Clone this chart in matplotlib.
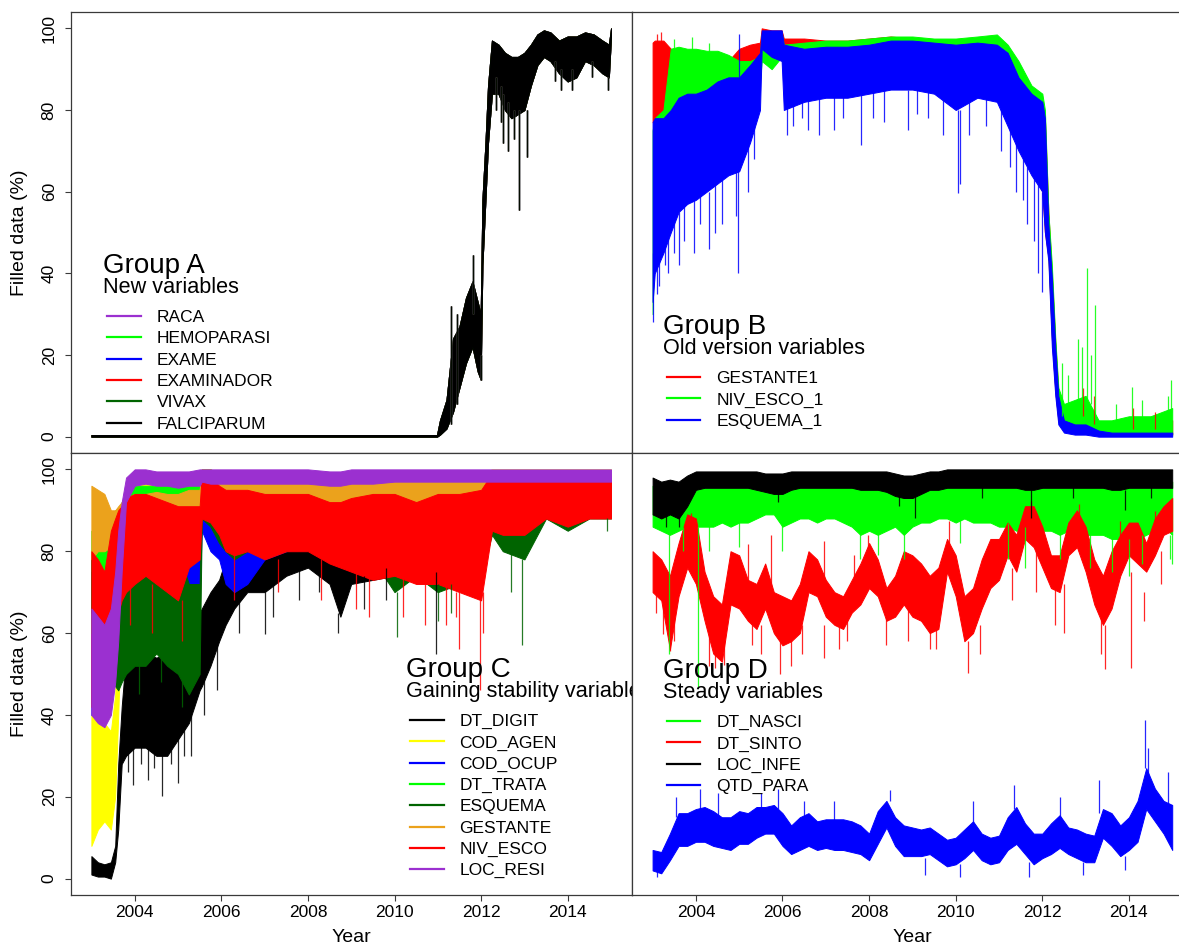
import numpy as np
import matplotlib
matplotlib.use("Agg")
import matplotlib.pyplot as plt
from matplotlib.lines import Line2D

plt.rcParams['font.family'] = ['Liberation Sans', 'DejaVu Sans']

# ---------------- DATA (band = daily low / high envelope) ----------------
# Group A: all six "new variables" overlap almost perfectly
A_NAMES = ['RACA', 'HEMOPARASI', 'EXAME', 'EXAMINADOR', 'VIVAX', 'FALCIPARUM']
A_T = [2003.0, 2010.98, 2011.05, 2011.2, 2011.35, 2011.5, 2011.65, 2011.8, 2011.92, 2011.99,
       2012.03, 2012.1, 2012.16, 2012.25, 2012.4, 2012.55, 2012.7, 2012.85, 2013.0, 2013.15,
       2013.3, 2013.45, 2013.6, 2013.8, 2014.0, 2014.2, 2014.4, 2014.6, 2014.8, 2014.95, 2015.0]
A_LO = [0, 0, 0.5, 2, 6, 12, 18, 22, 16, 14, 42, 58, 72, 84, 84, 80, 78, 79, 80, 86,
        91, 93, 92, 89, 87, 88, 92, 91, 89, 88, 98]
A_HI = [0.4, 0.4, 4, 9, 24, 27, 34, 38, 33, 30, 58, 72, 86, 97, 96, 94, 93, 93, 94, 96,
        98.5, 99.5, 99, 97, 98, 98, 99, 98.5, 97, 96, 100]
A_SPK_T = [2011.3, 2011.45, 2011.82, 2011.99, 2012.35, 2012.45, 2012.5, 2012.62, 2012.75, 2012.87,
           2013.05, 2013.7, 2013.85, 2014.1, 2014.55, 2014.93]
A_SPK_LO = [3, 8, 30, 13.9, 80, 77, 72, 70, 73, 55.5, 68.6, 87, 85, 85, 88, 85]
A_SPK_HI = [32, 30, 44.5, 20, 88, 86, 84, 82, 80, 80, 80, 92, 90, 90, 92, 88]

# Group B: old version variables
B_NAMES = ['GESTANTE1', 'NIV_ESCO_1', 'ESQUEMA_1']
B_T = [2003.0, 2003.05, 2003.25, 2003.42, 2003.6, 2003.8, 2004.0, 2004.25, 2004.5, 2004.75,
       2005.0, 2005.25, 2005.48, 2005.52, 2005.75, 2005.98, 2006.03, 2006.5, 2007.0, 2007.5,
       2008.0, 2008.5, 2009.0, 2009.5, 2010.0, 2010.5, 2010.95, 2011.2, 2011.45, 2011.75,
       2012.0, 2012.06, 2012.14, 2012.22, 2012.3, 2012.37, 2012.5, 2012.75, 2013.0, 2013.3,
       2013.6, 2014.0, 2014.5, 2015.0]
B_GESTANTE1_LO = [77, 78, 79, 80, 82, 82, 82, 84, 86, 86, 88, 90, 91, 96, 96, 96, 90, 91, 92, 91,
                  91, 92, 90, 89, 88, 88, 88, 80, 72, 66, 60, 50, 44, 24, 11, 4, 1.5, 1.5, 1.5, 0.5,
                  0.5, 0.5, 0.5, 0.5]
B_GESTANTE1_HI = [96.5, 97, 97, 95, 93, 93, 93, 93, 92, 92, 95, 96, 96.5, 100, 99.5, 99.5, 97.5, 97.5, 97, 97,
                  97.5, 98, 97.5, 97, 97, 97.5, 97.5, 95, 90, 85, 82, 78, 55, 40, 23, 11, 6, 7, 7, 3,
                  3, 4, 4, 4]
B_NIV_ESCO_1_LO = [30, 50, 60, 79, 80, 80, 79, 80, 84, 85, 86, 86, 87, 92, 90, 93, 88, 88, 88, 88,
                   89, 89, 88, 87, 86, 88, 88, 80, 74, 68, 62, 52, 45, 25, 12, 5, 2, 2, 2, 0.5,
                   0.5, 0.5, 0.5, 0.5]
B_NIV_ESCO_1_HI = [75, 78, 80, 95, 95.5, 95, 95, 94.5, 94.5, 93.5, 92, 92, 93, 98.5, 98, 99, 96, 96.5, 97, 97,
                   97.5, 98, 98, 97.5, 97.5, 98, 98.5, 96, 92, 86, 84, 80, 55, 42, 24, 12, 8, 9, 10, 4,
                   4, 5, 5, 7]
B_ESQUEMA_1_LO = [33, 40, 45, 50, 55, 57, 58, 60, 62, 64, 65, 72, 80, 95, 93, 92, 80, 82, 83, 83,
                  84, 85, 85, 84, 80, 83, 82, 76, 70, 64, 60, 50, 43, 22, 10, 3, 1, 0.5, 0.5, 0,
                  0, 0, 0, 0]
B_ESQUEMA_1_HI = [77, 78, 78, 80, 83, 84, 84, 85, 87, 88, 88, 91, 94, 99.5, 99.5, 99.5, 96, 95, 95.5, 95.5,
                  96, 97, 97, 96.5, 96, 96.5, 96, 94, 88, 84, 82, 78, 52, 39, 22, 10, 4, 3, 3, 1.5,
                  1, 1, 1, 1]
B_GESTANTE1_SPK_T = [2003.1, 2003.2, 2012.95, 2013.2, 2014.1, 2014.6]
B_GESTANTE1_SPK_LO = [90, 88, 5, 3, 2, 2]
B_GESTANTE1_SPK_HI = [98.5, 99, 12, 10, 7, 6]
B_NIV_ESCO_1_SPK_T = [2003.5, 2003.9, 2004.3, 2012.45, 2012.6, 2012.83, 2012.91, 2013.04, 2013.12,
                      2013.21, 2013.7, 2014.07, 2014.3, 2014.9, 2014.98]
B_NIV_ESCO_1_SPK_LO = [88, 90, 88, 5, 7, 8, 8, 9, 8, 4, 3, 4, 3, 5, 6]
B_NIV_ESCO_1_SPK_HI = [97.5, 98, 96.5, 18, 15, 24, 22, 41.3, 20, 32.2, 8, 12.2, 9, 10, 13.9]
B_ESQUEMA_1_SPK_T = [2003.02, 2003.1, 2003.15, 2003.28, 2003.35, 2003.5, 2003.6, 2003.72, 2003.95,
                     2004.1, 2004.3, 2004.45, 2004.6, 2004.92, 2004.98, 2004.99, 2005.2, 2005.35,
                     2006.1, 2006.25, 2006.45, 2006.6, 2006.85, 2007.2, 2007.4, 2007.82, 2008.1,
                     2008.35, 2008.9, 2009.1, 2009.35, 2009.7, 2010.05, 2010.1, 2010.3, 2010.7,
                     2011.05, 2011.25, 2011.4, 2011.55, 2011.65, 2011.8, 2011.9, 2012.0]
B_ESQUEMA_1_SPK_LO = [28, 35, 37, 42, 40, 45, 42, 48, 45, 52, 46, 50, 52, 54, 40, 88, 60, 68,
                      74, 76, 78, 75, 74, 75, 78, 71.5, 78, 77, 75, 79, 78, 74, 59.6, 62, 74, 76,
                      70, 66, 60, 58, 52, 48, 40, 35.5]
B_ESQUEMA_1_SPK_HI = [45, 50, 50, 55, 50, 55, 55, 60, 58, 62, 60, 65, 65, 65, 65, 98.5, 75, 80,
                      82, 82, 84, 84, 83, 84, 84, 84, 85, 86, 85, 86, 86, 84, 80, 80, 82, 84,
                      82, 78, 72, 68, 66, 66, 62, 60]

# Group C: gaining stability variables
C_NAMES = ['DT_DIGIT', 'COD_AGEN', 'COD_OCUP', 'DT_TRATA', 'ESQUEMA', 'GESTANTE', 'NIV_ESCO', 'LOC_RESI']
C_T = [2003.0, 2003.15, 2003.3, 2003.45, 2003.55, 2003.62, 2003.7, 2003.8, 2004.0, 2004.25,
       2004.5, 2004.75, 2005.0, 2005.25, 2005.5, 2005.55, 2005.75, 2005.95, 2006.1, 2006.3,
       2006.6, 2007.0, 2007.5, 2008.0, 2008.5, 2008.75, 2009.0, 2009.5, 2010.0, 2010.5,
       2011.0, 2011.5, 2012.0, 2012.25, 2012.5, 2013.0, 2013.5, 2014.0, 2014.5, 2015.0]
C_DT_DIGIT_LO = [1, 0.5, 0.5, 0, 4, 12, 28, 30, 32, 32, 30, 30, 34, 38, 46, 47, 52, 58, 62, 66,
                 70, 70, 74, 76, 72, 64, 72, 73, 74, 75, 74, 78, 80, 86, 88, 88, 90, 88, 90, 90]
C_DT_DIGIT_HI = [5.5, 4, 3.5, 4, 8, 28, 42, 55, 56, 55, 54, 55, 58, 62, 65, 66, 70, 73, 78, 81,
                 84, 85, 88, 87, 85, 78, 86, 88, 90, 91, 93, 95, 95, 97, 98, 98, 99, 98, 99, 99]
C_COD_AGEN_LO = [8, 12, 14, 12, 20, 40, 65, 80, 88, 90, 90, 90, 90, 90, 90, 92, 92, 90, 90, 90,
                 90, 90, 90, 90, 90, 90, 90, 90, 90, 90, 90, 90, 90, 92, 92, 92, 93, 92, 93, 93]
C_COD_AGEN_HI = [40, 40, 38, 36, 45, 70, 88, 95, 98, 99, 99, 99, 99, 99, 99, 100, 100, 99, 99, 99,
                 99, 99, 99, 99, 99, 99, 99, 99, 99, 99, 99, 99, 99, 100, 100, 100, 100, 100, 100, 100]
C_COD_OCUP_LO = [40, 42, 45, 55, 60, 62, 65, 68, 68, 68, 66, 64, 63, 68, 70, 85, 80, 78, 72, 70,
                 72, 78, 80, 81, 79, 78, 79, 78, 77, 77, 76, 76, 76, 86, 85, 85, 90, 86, 89, 89]
C_COD_OCUP_HI = [75, 72, 75, 85, 88, 88, 90, 90, 90, 90, 88, 88, 86, 82, 82, 97, 96, 92, 88, 88,
                 90, 93, 94, 95, 94, 93, 94, 95, 95, 94, 95, 95, 95, 98, 97, 97, 98, 97, 98, 98]
C_DT_TRATA_LO = [60, 62, 65, 70, 75, 78, 80, 82, 85, 85, 86, 86, 86, 87, 88, 96, 96, 94, 88, 88,
                 88, 88, 88, 88, 88, 88, 88, 88, 88, 88, 88, 88, 88, 90, 90, 90, 91, 90, 91, 91]
C_DT_TRATA_HI = [85, 84, 85, 88, 90, 90, 92, 94, 96, 96, 96, 96, 96, 96, 96, 100, 100, 99, 97, 97,
                 97, 97, 97, 97, 97, 97, 97, 97, 97, 97, 97, 97, 97, 99, 99, 99, 99, 99, 99, 99]
C_ESQUEMA_LO = [65, 66, 60, 50, 47, 46, 48, 50, 52, 52, 55, 52, 50, 45, 50, 88, 86, 82, 80, 78,
                80, 80, 80, 82, 80, 78, 80, 78, 70, 74, 70, 72, 74, 84, 80, 78, 88, 85, 88, 88]
C_ESQUEMA_HI = [78, 76, 74, 72, 70, 72, 78, 80, 80, 82, 84, 82, 80, 72, 72, 98, 97, 95, 95, 94,
                95, 95, 95, 95, 94, 93, 94, 95, 93, 93, 93, 94, 95, 97, 96, 95, 98, 97, 98, 98]
C_GESTANTE_LO = [78, 80, 80, 81, 82, 83, 84, 86, 86, 87, 87, 87, 87, 88, 89, 97, 96, 93, 91, 91,
                 91, 91, 91, 91, 91, 91, 91, 91, 91, 91, 91, 91, 91, 93, 93, 93, 93, 93, 93, 93]
C_GESTANTE_HI = [96, 95, 94, 90, 90, 91, 92, 93, 94, 94, 94.5, 94, 94, 95, 95, 100, 100, 99, 97.5, 97.5,
                 97.5, 97.5, 97.5, 97.5, 97.5, 97.5, 97.5, 97.5, 97.5, 97.5, 97.5, 97.5, 97.5, 99, 99, 99, 99, 99, 99, 99]
C_NIV_ESCO_LO = [42, 40, 40, 55, 62, 65, 68, 70, 72, 74, 72, 70, 68, 76, 78, 88, 87, 84, 80, 79,
                 80, 78, 80, 80, 77, 76, 75, 73, 74, 72, 72, 70, 68, 85, 84, 84, 88, 86, 88, 88]
C_NIV_ESCO_HI = [80, 78, 75, 85, 88, 90, 91, 93, 94, 94, 93, 92, 91, 91, 91, 99, 98, 96, 95, 95,
                 95, 94, 94, 94, 92, 92, 93, 94, 94, 92, 94, 94, 95, 99, 98, 98, 98, 98, 98, 98]
C_LOC_RESI_LO = [40, 38, 37, 40, 48, 58, 75, 92, 96, 96.5, 96, 96, 95.5, 96, 96, 97, 96.5, 96.5, 96.5, 96.5,
                 96.5, 96.5, 96.5, 96.5, 96, 96, 96.5, 96.5, 97, 97, 97, 97, 97, 97, 97, 97, 97, 97, 97, 97]
C_LOC_RESI_HI = [66, 64, 62, 66, 75, 85, 92, 98, 100, 100, 99.5, 99.5, 99.5, 99.5, 100, 100, 100, 100, 100, 100,
                 100, 100, 100, 100, 99.5, 99.5, 100, 100, 100, 100, 100, 100, 100, 100, 100, 100, 100, 100, 100, 100]
C_DT_DIGIT_SPK_T = [2003.85, 2003.95, 2004.15, 2004.3, 2004.45, 2004.64, 2004.85, 2005.0, 2005.15,
                    2005.3, 2005.6, 2005.9, 2006.4, 2007.0, 2007.2, 2007.8, 2008.25, 2008.7,
                    2009.3, 2009.8, 2010.95]
C_DT_DIGIT_SPK_LO = [26, 23, 28, 24, 27, 20.1, 28, 23.4, 30, 30, 40, 46, 60, 59.7, 64, 68, 70, 60,
                     66, 68, 55]
C_DT_DIGIT_SPK_HI = [35, 33, 36, 33, 35, 31, 35, 35, 40, 40, 50, 58, 68, 70, 74, 76, 78, 65,
                     74, 76, 75]
C_ESQUEMA_SPK_T = [2004.1, 2004.6, 2005.1, 2010.05, 2011.0, 2011.3, 2012.7, 2012.95, 2014.9]
C_ESQUEMA_SPK_LO = [45, 48, 42, 59, 63, 65, 70, 57, 85]
C_ESQUEMA_SPK_HI = [55, 58, 52, 70, 72, 72, 80, 78, 88]
C_NIV_ESCO_SPK_T = [2003.9, 2004.4, 2005.1, 2006.3, 2007.3, 2008.3, 2009.1, 2009.4, 2010.2,
                    2010.7, 2011.2, 2011.42, 2011.5, 2011.98, 2012.05]
C_NIV_ESCO_SPK_LO = [62, 60, 58, 68, 70, 68, 66, 64, 64, 62, 62, 64, 56, 46, 60]
C_NIV_ESCO_SPK_HI = [72, 72, 68, 80, 78, 78, 75, 74, 74, 72, 72, 70, 70, 68, 70]

# Group D: steady variables (sampled every 0.2 year)
D_NAMES = ['DT_NASCI', 'DT_SINTO', 'LOC_INFE', 'QTD_PARA']
D_T = [2003.0, 2003.2, 2003.4, 2003.6, 2003.8, 2004.0, 2004.2, 2004.4, 2004.6, 2004.8,
       2005.0, 2005.2, 2005.4, 2005.6, 2005.8, 2006.0, 2006.2, 2006.4, 2006.6, 2006.8,
       2007.0, 2007.2, 2007.4, 2007.6, 2007.8, 2008.0, 2008.2, 2008.4, 2008.6, 2008.8,
       2009.0, 2009.2, 2009.4, 2009.6, 2009.8, 2010.0, 2010.2, 2010.4, 2010.6, 2010.8,
       2011.0, 2011.2, 2011.4, 2011.6, 2011.8, 2012.0, 2012.2, 2012.4, 2012.6, 2012.8,
       2013.0, 2013.2, 2013.4, 2013.6, 2013.8, 2014.0, 2014.2, 2014.4, 2014.6, 2014.8, 2015.0]
D_DT_NASCI_LO = [86, 85, 84, 85, 86, 86, 86, 86, 87, 86, 87, 87, 88, 89, 89, 86, 87, 88, 88, 87,
                 88, 88, 87, 86, 84, 85, 84, 85, 86, 84, 86, 87, 87, 88, 88, 87, 88, 87, 87, 87,
                 86, 86, 85, 85, 85, 85, 85, 84, 85, 84, 84, 84, 84, 83, 83, 82, 83, 84, 85, 86, 84]
D_DT_NASCI_HI = [96, 95, 94, 95, 96, 97, 96, 96, 96, 96, 96, 96, 97, 96.5, 96, 96, 96, 96.5, 96.5, 96,
                 96.5, 96.5, 96, 96, 95, 95.5, 95.5, 96, 96, 95, 96, 96.5, 96.5, 97, 97.5, 97.5, 97.5, 97.5, 97, 97,
                 97, 97, 97, 97, 96.5, 96.5, 96.5, 96.5, 96.5, 96, 96, 96, 96, 95.5, 96, 95.5, 96, 96.5, 96.5, 97, 97]
D_DT_SINTO_LO = [70, 68, 56, 69, 76, 72, 63, 55, 53, 67, 66, 63, 61, 66, 60, 57, 58, 60, 70, 69,
                 64, 62, 61, 65, 67, 71, 69, 63, 64, 67, 64, 63, 60, 61, 75, 69, 58, 60, 66, 71,
                 73, 79, 75, 83, 81, 76, 71, 70, 79, 81, 75, 67, 62, 66, 74, 79, 77, 75, 79, 84, 85]
D_DT_SINTO_HI = [80, 78, 74, 82, 89, 88, 75, 69, 67, 80, 79, 73, 72, 77, 70, 69, 68, 72, 80, 78,
                 73, 70, 69, 73, 77, 82, 78, 71, 74, 80, 79, 77, 74, 76, 83, 79, 69, 71, 78, 83,
                 83, 87, 84, 91, 91, 86, 79, 79, 87, 90, 86, 78, 74, 80, 84, 87, 87, 82, 88, 91, 93]
D_LOC_INFE_LO = [89, 88, 89, 88, 91, 95, 95.5, 95.5, 95.5, 95.5, 95.5, 95.5, 95, 94.5, 94, 94, 95, 95.5, 95.5, 95.5,
                 95.5, 95.5, 95.5, 95.5, 95, 95, 95, 94.5, 93.5, 93, 93, 94, 95, 95, 95.5, 95.5, 95.5, 95.5, 95.5, 95.5,
                 95.5, 95.5, 95.5, 95, 95, 95.5, 95.5, 95.5, 95.5, 95.5, 95.5, 95.5, 95.5, 95, 95, 95.5, 95.5, 95.5, 95.5, 95.5, 95.5]
D_LOC_INFE_HI = [98, 97, 97.5, 97, 98.5, 99.5, 99.5, 99.5, 99.5, 99.5, 99.5, 99.5, 99.5, 99, 99, 99, 99.5, 99.5, 99.5, 99.5,
                 99.5, 99.5, 99.5, 99.5, 99.5, 99.5, 99.5, 99.5, 99, 98.5, 98.5, 99, 99.5, 99.5, 100, 100, 100, 100, 100, 100,
                 100, 100, 100, 100, 100, 100, 100, 100, 100, 100, 100, 100, 100, 100, 100, 100, 100, 100, 100, 100, 100]
D_QTD_PARA_LO = [2, 1.3, 4.5, 8, 8, 9, 9, 8, 7.5, 7, 8.5, 8.5, 10, 11, 11, 8, 6, 7, 8, 7,
                 7.5, 7, 7, 6.5, 6, 4.5, 8.5, 12.5, 8, 5.5, 5.5, 5.5, 6, 4.5, 3, 3.5, 5, 7, 4.5, 3.5,
                 4, 7, 8.5, 6, 3.5, 5, 6, 7.5, 6, 5, 4, 4, 10, 8, 5.5, 7, 9, 17, 14, 11, 7]
D_QTD_PARA_HI = [7, 6.5, 11, 16, 16, 17, 17.5, 16.5, 15, 15, 16.5, 16, 17.5, 17.5, 18, 16, 13, 15, 16, 14,
                 14.5, 14.5, 14.5, 14, 13, 11, 16.5, 19, 15, 13, 12.5, 12, 12.5, 11, 9.5, 10, 12, 14, 11, 10,
                 10.5, 15, 17.5, 13.5, 11, 11, 13.5, 15.5, 12.5, 12, 11, 10.5, 17, 16, 13, 15, 19, 27, 22, 19, 18]
D_DT_NASCI_SPK_T = [2003.38, 2003.7, 2004.04, 2004.3, 2005.0, 2006.0, 2007.8, 2008.2, 2008.8, 2010.1,
                    2011.2, 2011.6, 2012.4, 2013.1, 2013.6, 2014.0, 2014.3, 2014.95, 2015.0]
D_DT_NASCI_SPK_LO = [55, 80, 46.6, 80, 81, 80, 78, 79, 78, 82, 78, 76, 78, 76, 75, 74, 77, 78, 76.8]
D_DT_NASCI_SPK_HI = [85, 86, 86, 87, 88, 87, 85, 85, 85, 88, 87, 86, 85, 85, 84, 83, 84, 84, 84]
D_DT_SINTO_SPK_T = [2003.08, 2003.25, 2003.4, 2003.5, 2003.88, 2004.3, 2004.45, 2004.65, 2005.2, 2005.3,
                    2005.5, 2005.74, 2005.95, 2006.2, 2006.45, 2006.96, 2006.97, 2007.3, 2007.5, 2007.66,
                    2007.97, 2008.4, 2008.9, 2009.4, 2009.55, 2009.85, 2010.28, 2010.55, 2011.3, 2011.74,
                    2011.85, 2012.3, 2012.5, 2012.85, 2013.35, 2013.45, 2013.8, 2014.04, 2014.35, 2014.6,
                    2014.75]
D_DT_SINTO_SPK_LO = [65, 59.7, 55.6, 58, 80, 52, 51.5, 52.3, 70, 57, 55, 70, 49.9, 52, 55, 54, 72, 56, 58, 70,
                     78, 57, 58, 56, 56, 80, 50.3, 55, 68, 88, 70, 62, 60, 85, 55, 51.1, 80, 51.5, 63, 84,
                     72]
D_DT_SINTO_SPK_HI = [72, 68, 62, 66, 89.4, 62, 58, 60, 81.7, 63, 62, 84, 58, 60, 62, 62, 82.5, 63, 64, 79,
                     84, 64, 66, 62, 62, 87.4, 58, 62, 76, 92.3, 80, 72, 72, 91.5, 64, 62, 87.4, 75, 70, 89.8,
                     80]
D_LOC_INFE_SPK_T = [2003.3, 2003.6, 2005.9, 2008.7, 2009.05, 2010.6, 2011.75, 2012.7, 2013.9, 2014.5]
D_LOC_INFE_SPK_LO = [86, 86, 92, 91, 88, 93, 88, 93, 90, 93]
D_LOC_INFE_SPK_HI = [92, 92, 96, 95, 95, 96, 95, 96, 95, 96]
D_QTD_PARA_SPK_T = [2003.1, 2003.55, 2004.1, 2004.5, 2005.5, 2005.9, 2006.5, 2007.2, 2008.48, 2009.3,
                    2010.1, 2010.4, 2011.35, 2011.7, 2012.4, 2012.95, 2013.3, 2013.9, 2014.37, 2014.45,
                    2014.9]
D_QTD_PARA_SPK_LO = [0.5, 15, 16, 15, 16, 17, 14, 13, 19, 0.8, 0.3, 13, 17, 0.5, 14, 0.8, 16, 2, 27, 25, 18]
D_QTD_PARA_SPK_HI = [2, 20, 22, 21, 21, 22, 19, 19, 21.7, 5, 3.5, 19, 23, 4, 20, 4, 24, 5.5, 38.8, 32, 26]

X_TICKS = [2004, 2006, 2008, 2010, 2012, 2014]
Y_TICKS = [0, 20, 40, 60, 80, 100]

# ---------------- STYLE ----------------
PURPLE = '#9B30D0'
ORANGE = '#EBA21C'
A_COLORS = [PURPLE, '#00FF00', '#0000FF', '#FF0000', '#006400', '#000000']
B_COLORS = ['#FF0000', '#00FF00', '#0000FF']
C_COLORS = ['#000000', '#FFFF00', '#0000FF', '#00FF00', '#006400', ORANGE, '#FF0000', PURPLE]
D_COLORS = ['#00FF00', '#FF0000', '#000000', '#0000FF']

W, H = 1179, 948
fig = plt.figure(figsize=(W / 100, H / 100), dpi=100)


def fx(px):
    return px / W


def fy(py):
    return 1 - py / H


X0, XM, X1 = 70.6, 631.8, 1193.0
Y0, YM, Y1 = 12.0, 453.0, 895.0
axA = fig.add_axes([fx(X0), fy(YM), fx(XM) - fx(X0), fy(Y0) - fy(YM)])
axB = fig.add_axes([fx(XM), fy(YM), fx(X1) - fx(XM), fy(Y0) - fy(YM)])
axC = fig.add_axes([fx(X0), fy(Y1), fx(XM) - fx(X0), fy(YM) - fy(Y1)])
axD = fig.add_axes([fx(XM), fy(Y1), fx(X1) - fx(XM), fy(YM) - fy(Y1)])

for ax in (axA, axB, axC, axD):
    ax.set_xlim(2002.52, 2015.48)
    ax.set_ylim(-4, 104)
    for s in ax.spines.values():
        s.set_color('#3a3a3a')
        s.set_linewidth(0.9)
    ax.tick_params(length=4.5, width=0.8, color='#3a3a3a', labelsize=12.5)
    ax.set_xticks([])
    ax.set_yticks([])

for ax in (axA, axC):
    ax.set_yticks(Y_TICKS)
    ax.set_yticklabels([str(v) for v in Y_TICKS], rotation=90, va='center')
    ax.tick_params(axis='y', pad=5.5)
for ax in (axC, axD):
    ax.set_xticks(X_TICKS)
    ax.set_xticklabels([str(v) for v in X_TICKS])
    ax.tick_params(axis='x', pad=2.5)


def band(ax, t, lo, hi, color, spk=None):
    ax.fill_between(t, lo, hi, facecolor=color, edgecolor=color, linewidth=0.7)
    if spk is not None:
        ax.vlines(spk[0], spk[1], spk[2], colors=color, linewidth=0.9, alpha=0.85)


# Group A
for name, col in zip(A_NAMES, A_COLORS):
    band(axA, A_T, A_LO, A_HI, col, (A_SPK_T, A_SPK_LO, A_SPK_HI))

# Group B
band(axB, B_T, B_GESTANTE1_LO, B_GESTANTE1_HI, B_COLORS[0],
     (B_GESTANTE1_SPK_T, B_GESTANTE1_SPK_LO, B_GESTANTE1_SPK_HI))
band(axB, B_T, B_NIV_ESCO_1_LO, B_NIV_ESCO_1_HI, B_COLORS[1],
     (B_NIV_ESCO_1_SPK_T, B_NIV_ESCO_1_SPK_LO, B_NIV_ESCO_1_SPK_HI))
band(axB, B_T, B_ESQUEMA_1_LO, B_ESQUEMA_1_HI, B_COLORS[2],
     (B_ESQUEMA_1_SPK_T, B_ESQUEMA_1_SPK_LO, B_ESQUEMA_1_SPK_HI))

# Group C
band(axC, C_T, C_DT_DIGIT_LO, C_DT_DIGIT_HI, C_COLORS[0],
     (C_DT_DIGIT_SPK_T, C_DT_DIGIT_SPK_LO, C_DT_DIGIT_SPK_HI))
band(axC, C_T, C_COD_AGEN_LO, C_COD_AGEN_HI, C_COLORS[1])
band(axC, C_T, C_COD_OCUP_LO, C_COD_OCUP_HI, C_COLORS[2])
band(axC, C_T, C_DT_TRATA_LO, C_DT_TRATA_HI, C_COLORS[3])
band(axC, C_T, C_ESQUEMA_LO, C_ESQUEMA_HI, C_COLORS[4],
     (C_ESQUEMA_SPK_T, C_ESQUEMA_SPK_LO, C_ESQUEMA_SPK_HI))
band(axC, C_T, C_GESTANTE_LO, C_GESTANTE_HI, C_COLORS[5])
band(axC, C_T, C_NIV_ESCO_LO, C_NIV_ESCO_HI, C_COLORS[6],
     (C_NIV_ESCO_SPK_T, C_NIV_ESCO_SPK_LO, C_NIV_ESCO_SPK_HI))
band(axC, C_T, C_LOC_RESI_LO, C_LOC_RESI_HI, C_COLORS[7])

# Group D
band(axD, D_T, D_DT_NASCI_LO, D_DT_NASCI_HI, D_COLORS[0],
     (D_DT_NASCI_SPK_T, D_DT_NASCI_SPK_LO, D_DT_NASCI_SPK_HI))
band(axD, D_T, D_DT_SINTO_LO, D_DT_SINTO_HI, D_COLORS[1],
     (D_DT_SINTO_SPK_T, D_DT_SINTO_SPK_LO, D_DT_SINTO_SPK_HI))
band(axD, D_T, D_LOC_INFE_LO, D_LOC_INFE_HI, D_COLORS[2],
     (D_LOC_INFE_SPK_T, D_LOC_INFE_SPK_LO, D_LOC_INFE_SPK_HI))
band(axD, D_T, D_QTD_PARA_LO, D_QTD_PARA_HI, D_COLORS[3],
     (D_QTD_PARA_SPK_T, D_QTD_PARA_SPK_LO, D_QTD_PARA_SPK_HI))


def group_legend(ax, left, first, title, subtitle, names, colors):
    tr = fig.transFigure
    ax.text(fx(left), fy(first - 43), title, transform=tr, fontsize=20,
            ha='left', va='baseline', clip_on=True)
    ax.text(fx(left), fy(first - 23), subtitle, transform=tr, fontsize=15.6,
            ha='left', va='baseline', clip_on=True)
    for i, (nm, col) in enumerate(zip(names, colors)):
        y = first + i * 21.3
        fig.add_artist(Line2D([fx(left + 4), fx(left + 37.5)], [fy(y), fy(y)],
                              transform=tr, color=col, linewidth=1.6))
        ax.text(fx(left + 53.5), fy(y + 6.2), nm, transform=tr, fontsize=12.5,
                ha='left', va='baseline', clip_on=True)


group_legend(axA, 103, 316, 'Group A', 'New variables', A_NAMES, A_COLORS)
group_legend(axB, 662.8, 377, 'Group B', 'Old version variables', B_NAMES, B_COLORS)
group_legend(axC, 406, 720, 'Group C', 'Gaining stability variables', C_NAMES, C_COLORS)
group_legend(axD, 662.8, 721, 'Group D', 'Steady variables', D_NAMES, D_COLORS)

fig.text(fx(19.6), fy(232.5), 'Filled data (%)', rotation=90, ha='center', va='center', fontsize=14)
fig.text(fx(19.6), fy(674), 'Filled data (%)', rotation=90, ha='center', va='center', fontsize=14)
fig.text(fx(351.2), fy(938), 'Year', ha='center', va='center', fontsize=14)
fig.text(fx(912.4), fy(938), 'Year', ha='center', va='center', fontsize=14)

fig.savefig('out.png', dpi=100, facecolor='white')
